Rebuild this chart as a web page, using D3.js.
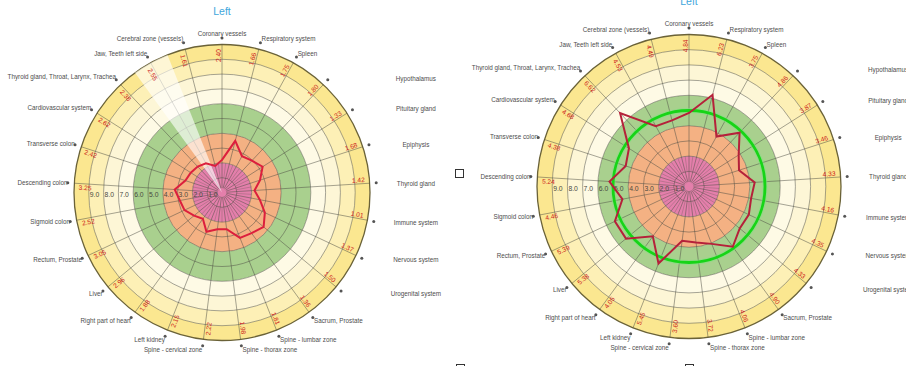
<!DOCTYPE html>
<html><head><meta charset="utf-8">
<script src="https://cdn.jsdelivr.net/npm/d3@7"></script>
<style>body{margin:0;background:#fff}svg{display:block}</style>
</head><body>
<svg id="c" width="906" height="366"></svg>
<script>
const categories = ["Coronary vessels","Respiratory system","Spleen","Hypothalamus","Pituitary gland","Epiphysis","Thyroid gland","Immune system","Nervous system","Urogenital system","Sacrum, Prostate","Spine - lumbar zone","Spine - thorax zone","Spine - cervical zone","Left kidney","Right part of heart","Liver","Rectum, Prostate","Sigmoid colon","Descending colon","Transverse colon","Cardiovascular system","Thyroid gland, Throat, Larynx, Trachea","Jaw, Teeth left side","Cerebral zone (vessels)"];
const chart1Labels = [2.40,1.66,1.75,1.80,1.33,1.68,1.42,1.01,1.37,1.50,1.36,1.81,1.98,2.22,2.15,1.88,2.96,3.05,2.52,3.25,2.42,2.62,2.38,2.55,1.61];
const chart1Values = [2.2,3.6,2.8,2.95,3.25,2.7,2.2,2.6,3.2,3.65,3.4,3.3,2.5,2.5,2.85,2.2,2.45,2.8,2.9,3.2,2.6,2.5,2.4,2.25,1.85];
const chart2Values = [4.84,6.23,3.75,4.86,3.87,3.46,4.33,4.16,4.35,4.33,4.90,4.06,3.72,3.60,5.45,4.05,5.38,5.39,4.46,5.24,4.38,4.68,6.62,4.53,4.49];
const scaleTicks = [1,2,3,4,5,6,7,8,9];
const ringValues = [1,2,3,4,5,6,7,8,9,10];
const bandStops = [0,2,4,6,7,8,9,10];
const titleText = "Left";
const highlightIndex = 23;
const normValue = 5;

const bandColors = ["#e47fab","#f4b183","#a9d08e","#fefae5","#fdf6d6","#fdf0b6","#fbe790"];
const svg = d3.select("#c");
const N = categories.length;
const step = 360 / N;
const rad = d => d * Math.PI / 180;
const fontF = "'Liberation Sans', Arial, sans-serif";

function drawChart(o) {
  const g = svg.append("g");
  const r = d3.scaleLinear().domain([0, 10]).range([0, o.R]);
  const ang = d3.scaleLinear().domain([0, N]).range([0, 2 * Math.PI]);
  const C = g.append("g").attr("transform", `translate(${o.cx},${o.cy})`);

  g.append("text").attr("x", o.cx).attr("y", o.titleY).attr("text-anchor", "middle")
    .attr("font-family", fontF).attr("font-size", 10.5).attr("fill", "#3ea7dc").text(titleText);

  const arc = d3.arc();
  C.selectAll("path.band").data(d3.pairs(bandStops)).join("path").attr("class", "band")
    .attr("d", (d) => arc({innerRadius: r(d[0]), outerRadius: r(d[1]), startAngle: 0, endAngle: 2 * Math.PI}))
    .attr("fill", (d, i) => bandColors[i]);

  C.selectAll("circle.ring").data(ringValues).join("circle").attr("class", "ring")
    .attr("r", d => r(d)).attr("fill", "none")
    .attr("stroke", d => d === 10 ? "#6a6238" : "#4f4f45")
    .attr("stroke-width", d => d === 10 ? 1.3 : 0.6)
    .attr("stroke-opacity", d => d === 10 ? 1 : 0.85);

  C.selectAll("line.spoke").data(d3.range(N)).join("line").attr("class", "spoke")
    .attr("x1", i => r(0.3) * Math.sin(ang(i))).attr("y1", i => -r(0.3) * Math.cos(ang(i)))
    .attr("x2", i => r(10) * Math.sin(ang(i))).attr("y2", i => -r(10) * Math.cos(ang(i)))
    .attr("stroke", "#4f4f45").attr("stroke-width", 0.6).attr("stroke-opacity", 0.85);
  C.selectAll("line.half").data(d3.range(N)).join("line").attr("class", "half")
    .attr("x1", i => r(1) * Math.sin(ang(i + 0.5))).attr("y1", i => -r(1) * Math.cos(ang(i + 0.5)))
    .attr("x2", i => r(2) * Math.sin(ang(i + 0.5))).attr("y2", i => -r(2) * Math.cos(ang(i + 0.5)))
    .attr("stroke", "#4f4f45").attr("stroke-width", 0.5).attr("stroke-opacity", 0.55);

  if (o.highlight != null) {
    C.append("path").attr("d", arc({innerRadius: 0, outerRadius: r(10),
      startAngle: ang(o.highlight - 0.5), endAngle: ang(o.highlight + 0.5)}))
      .attr("fill", "#ffffff").attr("fill-opacity", 0.62);
  }

  if (o.norm != null) {
    C.append("circle").attr("r", r(o.norm)).attr("fill", "none")
      .attr("stroke", "#7fe27f").attr("stroke-width", 5).attr("stroke-opacity", 0.55);
    C.append("circle").attr("r", r(o.norm)).attr("fill", "none")
      .attr("stroke", "#17d417").attr("stroke-width", 2.8);
  }

  C.selectAll("text.tick").data(scaleTicks).join("text").attr("class", "tick")
    .attr("x", d => -r(d) + 1).attr("y", 4.5)
    .attr("font-family", fontF).attr("font-size", 6.8).attr("fill", "#4a4a40")
    .text(d => d3.format(".1f")(d));

  const line = d3.lineRadial().angle((d, i) => ang(i)).radius(d => r(d)).curve(d3.curveLinearClosed);
  C.append("path").attr("d", line(o.values)).attr("fill", "none")
    .attr("stroke", o.lineColor).attr("stroke-width", 2).attr("stroke-linejoin", "miter");

  C.selectAll("text.val").data(o.labels).join("text").attr("class", "val")
    .attr("transform", (d, i) => {
      const deg = i * step;
      return deg < 180 ? `rotate(${deg - 90})` : `rotate(${deg - 270})`;
    })
    .attr("x", (d, i) => (i * step < 180 ? 1 : -1) * r(9.25))
    .attr("y", (d, i) => i * step < 180 ? -1.4 : 6.2)
    .attr("text-anchor", "middle")
    .attr("font-family", fontF).attr("font-size", 6.6).attr("fill", "#cc1b1b")
    .text(d => d3.format(".2f")(d));

  const rd = o.R + 6.5;
  categories.forEach((name, i) => {
    const deg = i * step, a = rad(deg);
    const dx = o.cx + rd * Math.sin(a), dy = o.cy - rd * Math.cos(a);
    g.append("circle").attr("cx", dx).attr("cy", dy).attr("r", 1.5).attr("fill", "#555");
    let anchor, tx, ty;
    const off = -Math.cos(a) * 3.8 + 2.3;
    if (deg === 0) { anchor = "middle"; tx = dx; ty = dy - 2; }
    else if (deg > 40 && deg < 135) { anchor = "middle"; tx = o.cx + 1.31 * o.R; ty = dy + 3 - Math.cos(a) * 2.5; }
    else if (deg < 180) { anchor = "start"; tx = dx + 1.2; ty = dy + off; }
    else { anchor = "end"; tx = dx - 0.3; ty = dy + off; }
    g.append("text").attr("x", tx).attr("y", ty).attr("text-anchor", anchor)
      .attr("font-family", fontF).attr("font-size", 6.3).attr("fill", "#4d4d4d").text(name);
  });
}

drawChart({cx: 222, cy: 192.5, R: 148, titleY: 15, values: chart1Values, labels: chart1Labels,
  lineColor: "#dc1f3d", highlight: highlightIndex, norm: null});
drawChart({cx: 689, cy: 186.5, R: 152, titleY: 5, values: chart2Values, labels: chart2Values,
  lineColor: "#b5213a", highlight: null, norm: normValue});

svg.selectAll("rect.box").data([[455.5, 169.5], [456.5, 364.5], [685.5, 364.5]]).join("rect")
  .attr("class", "box").attr("x", d => d[0]).attr("y", d => d[1]).attr("width", 8).attr("height", 8)
  .attr("fill", "#fff").attr("stroke", "#333").attr("stroke-width", 1);
</script>
</body></html>
